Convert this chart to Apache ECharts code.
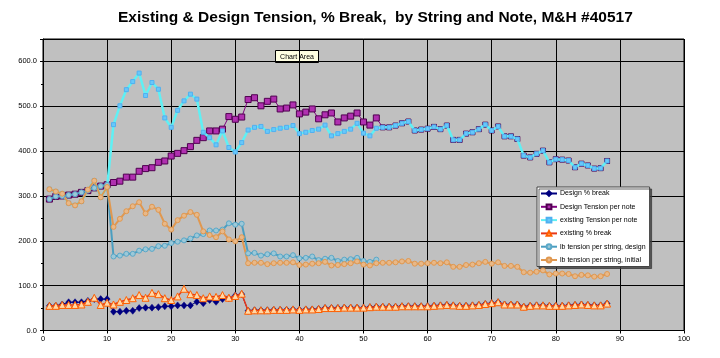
<!DOCTYPE html>
<html><head><meta charset="utf-8">
<script src="https://cdn.jsdelivr.net/npm/echarts@6/dist/echarts.min.js"></script>
<style>html,body{margin:0;padding:0;background:#fff}#c{width:720px;height:358px}</style>
</head><body><div id="c"></div>
<script>
const titleText = "Existing & Design Tension, % Break,  by String and Note, M&H #40517";
const seriesNames = ["Design % break","Design Tension per note","existing Tension per note","existing % break","lb tension per string, design","lb tension per string, initial"];
const xTicks = [0,10,20,30,40,50,60,70,80,90,100];
const yTicks = [0,100,200,300,400,500,600];

// values indexed by note number 1..88
const designBreak = [55,55,58,63,63,63,66,70,70,70,
 42,42,44,44,50,51,51,52,54,54,56,56,56,64,61,68,64,70,72,78,81,
 44,45,45,45,46,46,46,47,46,47,47,48,50,50,50,51,51,51,51,52,53,
 53,53,53,54,54,54,54,54,55,56,57,56,55,55,56,57,59,61,63,58,58,58,53,55,56,56,55,55,55,56,57,58,57,56,56,60];
const designTension = [293,299,300,302,304,308,312,318,322,325,
 330,333,342,342,355,361,363,375,378,389,395,401,410,424,430,445,445,449,477,471,476,
 515,519,501,511,516,494,496,503,483,487,494,472,481,485,465,474,478,485,465,458,474,
 453,453,457,462,466,446,448,450,454,449,457,425,425,439,442,449,459,446,455,433,433,427,390,386,394,401,375,382,381,379,364,372,368,361,362,378];
const existingTension = [315,310,305,284,279,288,314,334,297,320,
 459,501,537,555,574,524,553,538,474,453,491,512,527,516,442,430,414,445,408,398,419,
 447,453,455,444,448,451,453,457,439,442,446,449,458,434,439,444,449,462,440,434,451,
 453,453,457,462,466,446,448,450,454,449,457,425,425,439,442,449,459,446,455,433,433,427,390,386,394,401,375,382,381,379,364,372,368,361,362,378];
const existingBreak = [55,55,57,57,57,58,64,73,57,62,
 58,64,68,72,79,73,84,81,72,68,76,93,81,79,72,76,75,79,73,77,82,
 44,45,45,45,46,46,46,47,46,47,47,48,50,50,50,51,51,51,51,52,53,
 53,53,53,54,54,54,54,54,55,56,57,56,55,55,56,57,59,61,63,58,58,58,53,55,56,56,55,55,55,56,57,58,57,56,56,60];
const lbDesign = [293,299,300,302,304,308,312,318,322,325,
 165,167,171,171,178,181,182,188,189,195,198,201,205,212,215,223,223,225,239,236,238,
 172,173,167,170,172,165,165,168,161,162,165,157,160,162,155,158,159,162,155,153,158];
const lbInitial = [315,310,305,284,279,288,314,334,297,320,
 231,249,266,277,286,261,276,269,238,225,246,256,264,258,221,213,208,221,203,199,208,
 150,151,151,148,150,151,151,152,146,147,149,150,153,145,146,148,150,154,147,145,150,
 151,151,152,154,155,149,149,150,151,150,152,142,142,146,147,150,153,149,152,144,144,142,130,129,131,134,125,127,127,126,121,124,123,120,121,126];

function pts(arr){ return arr.map((v,i)=>[i+1,v]); }

const chart = echarts.init(document.getElementById('c'), null, {renderer:'canvas'});
const base = {type:'line', animation:false, showSymbol:true, symbolKeepAspect:true};
const FF = 'Liberation Sans, Arial, sans-serif';
chart.setOption({
  animation:false,
  backgroundColor:'#ffffff',
  title:{text:titleText, left:113, top:5,
    textStyle:{fontFamily:FF, fontWeight:'bold', fontSize:15.5, color:'#000'}},
  grid:{left:43, right:36, top:39, bottom:27.5, show:true, backgroundColor:'#c0c0c0', borderColor:'#000', borderWidth:1},
  legend:{orient:'vertical', left:537, top:187,
    itemWidth:16, itemHeight:6, itemGap:6.3, padding:[3,4,3,3],
    backgroundColor:'#ffffff', borderColor:'#444', borderWidth:1,
    shadowColor:'rgba(60,60,60,0.8)', shadowOffsetX:2, shadowOffsetY:2, shadowBlur:0,
    textStyle:{fontFamily:FF, fontSize:7, color:'#000', padding:[0,0,0,-2]},
    data:seriesNames},
  xAxis:{type:'value', min:0, max:100, interval:10,
    axisLine:{lineStyle:{color:'#000', width:1}},
    axisTick:{show:true, length:3, lineStyle:{color:'#000'}},
    axisLabel:{fontFamily:FF, fontSize:7.5, color:'#000', margin:4,
      formatter:v=>xTicks.includes(v)?String(v):''},
    splitLine:{show:true, lineStyle:{color:'#000', width:1}}},
  yAxis:{type:'value', min:0, max:650, interval:100,
    axisLine:{show:true, lineStyle:{color:'#000', width:1}},
    axisTick:{show:true, length:3, lineStyle:{color:'#000'}},
    minorTick:{show:true, splitNumber:2, length:2, lineStyle:{color:'#000'}},
    axisLabel:{fontFamily:FF, fontSize:7.5, color:'#000', margin:6,
      formatter:v=>yTicks.includes(v)?v.toFixed(1):''},
    splitLine:{show:true, lineStyle:{color:'#000', width:1}}},
  series:[
    Object.assign({}, base, {name:seriesNames[0], data:pts(designBreak), z:3,
      symbol:'diamond', symbolSize:[6,7],
      lineStyle:{color:'#000080', width:1}, itemStyle:{color:'#000080', borderColor:'#000080', borderWidth:0.5}}),
    Object.assign({}, base, {name:seriesNames[1], data:pts(designTension), z:2,
      symbol:'rect', symbolSize:(v)=> v[0] > 52 ? 5 : 6,
      lineStyle:{color:'#800080', width:1}, itemStyle:{color:'#b030b0', borderColor:'#500050', borderWidth:1}}),
    Object.assign({}, base, {name:seriesNames[2], data:pts(existingTension), z:3,
      symbol:'rect', symbolSize:4,
      lineStyle:{color:'#5ff0f4', width:2.5}, itemStyle:{color:'#68c8fa', borderColor:'#50b0f0', borderWidth:1}}),
    Object.assign({}, base, {name:seriesNames[3], data:pts(existingBreak), z:5,
      symbol:'triangle', symbolSize:7,
      lineStyle:{color:'#e83818', width:1.5}, itemStyle:{color:'#ffd8a8', borderColor:'#ff6000', borderWidth:1}}),
    Object.assign({}, base, {name:seriesNames[4], data:pts(lbDesign), z:4,
      symbol:'circle', symbolSize:5,
      lineStyle:{color:'#4a9ec0', width:2}, itemStyle:{color:'#9cc8d8', borderColor:'#5aa8c8', borderWidth:1}}),
    Object.assign({}, base, {name:seriesNames[5], data:pts(lbInitial), z:4,
      symbol:'circle', symbolSize:5,
      lineStyle:{color:'#e09850', width:2}, itemStyle:{color:'#e8b888', borderColor:'#e09850', borderWidth:1}})
  ],
  graphic:[{type:'group', left:275, top:50, z:100, children:[
    {type:'rect', shape:{x:0,y:0,width:43,height:12}, style:{fill:'#ffffe1', stroke:'#000', lineWidth:1}},
    {type:'text', style:{x:21.5, y:6.5, text:'Chart Area', textAlign:'center', textVerticalAlign:'middle',
      fontFamily:FF, fontSize:7, fill:'#000'}}
  ]}]
});
</script></body></html>
